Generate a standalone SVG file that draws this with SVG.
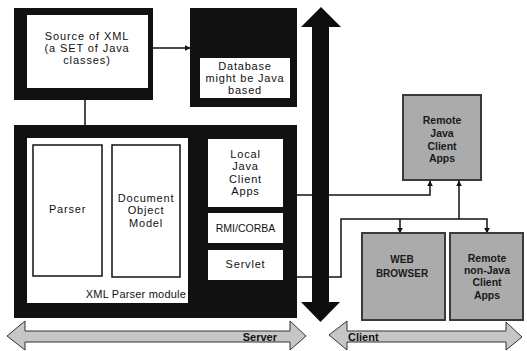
<svg xmlns="http://www.w3.org/2000/svg" width="527" height="351" viewBox="0 0 527 351">
<style>
.frame{fill:#111}
.inner{fill:#fff}
.wbox{fill:#fff;stroke:#111;stroke-width:1.5}
.gbox{fill:#ababab;stroke:#3a3a3a;stroke-width:2}
.t{font-family:"Liberation Sans",Arial,sans-serif;font-size:11px;fill:#111;text-anchor:middle;letter-spacing:0.8px}
.g{font-family:"Liberation Sans",Arial,sans-serif;font-size:10.5px;font-weight:bold;fill:#1a1a1a;text-anchor:middle}
.b{font-family:"Liberation Sans",Arial,sans-serif;font-size:11px;font-weight:bold;fill:#111}
.c{fill:none;stroke:#111;stroke-width:1.5}
.band{fill:#c6c6c6;stroke:#333;stroke-width:1}
</style>
<defs>
<marker id="ah" viewBox="0 0 10 10" refX="9" refY="5" markerWidth="6" markerHeight="6" markerUnits="userSpaceOnUse" orient="auto">
<path d="M0,0 L10,5 L0,10 Z" fill="#111"/>
</marker>
</defs>

<g id="connectors">
<path class="c" d="M153,48 H190" marker-end="url(#ah)"/>
<path class="c" d="M85,100 V125"/>
<path class="c" d="M297,195 H430 V181" marker-end="url(#ah)"/>
<path class="c" d="M297,277 H341 V219 H487 V233" marker-end="url(#ah)"/>
<path class="c" d="M400,219 V233" marker-end="url(#ah)"/>
<path class="c" d="M459,219 V181" marker-end="url(#ah)"/>
</g>

<g id="source">
<rect class="frame" x="14" y="8" width="139" height="92"/>
<rect class="inner" x="27" y="15" width="121" height="73"/>
<text class="t" style="letter-spacing:0.9px"><tspan x="87" y="40">Source of XML</tspan><tspan x="87" y="52">(a SET of Java</tspan><tspan x="87" y="64">classes)</tspan></text>
</g>

<g id="database">
<rect class="frame" x="190" y="8" width="107" height="99"/>
<rect class="inner" x="200" y="58" width="90" height="40"/>
<text class="t"><tspan x="245" y="70">Database</tspan><tspan x="245" y="82">might be Java</tspan><tspan x="245" y="94">based</tspan></text>
</g>

<g id="parser-module">
<rect class="frame" x="14" y="125" width="283" height="193"/>
<rect class="inner" x="27" y="138" width="161" height="165"/>
<text class="b" x="186" y="298" text-anchor="end" style="font-weight:normal;letter-spacing:0.2px">XML Parser module</text>
</g>

<g id="parser">
<rect class="wbox" x="33" y="145" width="69" height="131"/>
<text class="t" x="67.5" y="213">Parser</text>
</g>

<g id="dom">
<rect class="wbox" x="112" y="145" width="68" height="132"/>
<text class="t"><tspan x="146" y="202">Document</tspan><tspan x="146" y="214">Object</tspan><tspan x="146" y="227">Model</tspan></text>
</g>

<g id="local-java">
<rect class="inner" x="208" y="139" width="75" height="68"/>
<text class="t"><tspan x="245.5" y="158">Local</tspan><tspan x="245.5" y="170">Java</tspan><tspan x="245.5" y="183">Client</tspan><tspan x="245.5" y="195">Apps</tspan></text>
</g>

<g id="rmi">
<rect class="inner" x="208" y="213" width="75" height="30"/>
<text class="t" x="245.5" y="232" style="font-size:10.5px;letter-spacing:0">RMI/CORBA</text>
</g>

<g id="servlet">
<rect class="inner" x="208" y="250" width="75" height="30"/>
<text class="t" x="245.5" y="268">Servlet</text>
</g>

<g id="tier-arrow">
<path fill="#0d0d0d" d="M321,7 L341,27 L329,27 L329,302 L340,302 L320.5,322 L301,302 L312,302 L312,27 L301,27 Z"/>
</g>

<g id="remote-java">
<rect class="gbox" x="403" y="95" width="78" height="85"/>
<text class="g"><tspan x="442" y="124">Remote</tspan><tspan x="442" y="137">Java</tspan><tspan x="442" y="150">Client</tspan><tspan x="442" y="162">Apps</tspan></text>
</g>

<g id="web-browser">
<rect class="gbox" x="362" y="233" width="83" height="87"/>
<text class="g" style="font-size:10px"><tspan x="402" y="263">WEB</tspan><tspan x="402" y="277">BROWSER</tspan></text>
</g>

<g id="remote-nonjava">
<rect class="gbox" x="450" y="233" width="73" height="87"/>
<text class="g"><tspan x="487" y="262">Remote</tspan><tspan x="487" y="274">non-Java</tspan><tspan x="487" y="286">Client</tspan><tspan x="487" y="299">Apps</tspan></text>
</g>

<g id="server-band">
<path class="band" d="M7,336 L25,321 L25,331 L290,331 L290,321 L306,336 L290,350 L290,342 L25,342 L25,350 Z"/>
<text class="b" x="277" y="341" text-anchor="end">Server</text>
</g>

<g id="client-band">
<path class="band" d="M329,335 L347,321 L347,331 L506,331 L506,322 L522,337 L506,350 L506,342 L347,342 L347,350 Z"/>
<text class="b" x="348" y="341">Client</text>
</g>
</svg>
